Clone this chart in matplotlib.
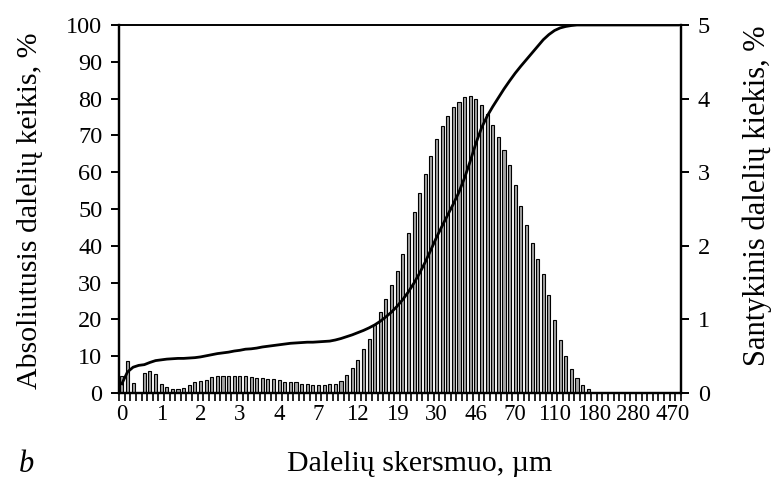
import numpy as np
import matplotlib.pyplot as plt

plt.rcParams['font.family'] = ['Liberation Serif', 'DejaVu Serif']

# santykinis kiekis kiekvienoje klaseje, % (desine asis)
santykinis = [
    0.236, 0.43, 0.136, 0.0, 0.272, 0.294, 0.263, 0.127, 0.077, 0.054,
    0.054, 0.068, 0.104, 0.145, 0.168, 0.181, 0.213, 0.231, 0.231, 0.231,
    0.231, 0.231, 0.231, 0.222, 0.208, 0.204, 0.195, 0.19, 0.181, 0.154,
    0.149, 0.145, 0.127, 0.122, 0.113, 0.109, 0.109, 0.118, 0.127, 0.159,
    0.24, 0.335, 0.444, 0.598, 0.734, 0.924, 1.096, 1.273, 1.472, 1.653,
    1.893, 2.174, 2.464, 2.713, 2.976, 3.225, 3.456, 3.628, 3.768, 3.89,
    3.958, 4.022, 4.04, 3.995, 3.918, 3.791, 3.646, 3.478, 3.297, 3.102,
    2.826, 2.545, 2.278, 2.033, 1.825, 1.621, 1.332, 0.996, 0.716, 0.498,
    0.326, 0.199, 0.115, 0.05, 0, 0, 0, 0, 0, 0,
    0, 0, 0, 0, 0, 0, 0, 0, 0, 0,
]

# absoliutusis (kumuliatyvinis) kiekis, % (kaire asis)
absoliutusis = [
    2.5, 5.7, 7.0, 7.5, 7.7, 8.3, 8.8, 9.0, 9.2, 9.3,
    9.4, 9.4, 9.5, 9.6, 9.8, 10.1, 10.4, 10.7, 10.9, 11.1,
    11.4, 11.6, 11.9, 12.0, 12.2, 12.5, 12.7, 12.9, 13.1, 13.3,
    13.5, 13.6, 13.7, 13.8, 13.8, 13.9, 14.0, 14.1, 14.4, 14.8,
    15.3, 15.8, 16.4, 17.0, 17.7, 18.5, 19.5, 20.7, 22.0, 23.6,
    25.4, 27.5, 29.9, 32.6, 35.6, 38.9, 42.3, 45.4, 48.4, 51.4,
    54.6, 58.5, 63.0, 67.8, 72.0, 75.2, 77.8, 80.2, 82.6, 84.8,
    86.9, 88.8, 90.6, 92.4, 94.2, 96.0, 97.4, 98.5, 99.2, 99.6,
    99.85, 100, 100, 100, 100, 100, 100, 100, 100, 100,
    100, 100, 100, 100, 100, 100, 100, 100, 100, 100,
]

x_zymes = ['0', '1', '2', '3', '4', '7', '12', '19', '30', '46',
           '70', '110', '180', '280', '470']
zymiu_zingsnis = 7

n = len(santykinis)
x = np.arange(n)

fig = plt.figure(figsize=(7.77, 4.86), dpi=100)
ax = fig.add_axes([0.1532, 0.1914, 0.7232, 0.7572])
ax2 = ax.twinx()

ax2.bar(x, santykinis, width=0.55, color='#a3a3a3', edgecolor='black',
        linewidth=0.8)
ax.plot(x, absoliutusis, color='black', linewidth=2.0)

# linija virs stulpeliu
ax.set_zorder(ax2.get_zorder() + 1)
ax.patch.set_visible(False)

ax.set_xlim(-0.5, n - 0.5)
ax.set_ylim(0, 100)
ax2.set_ylim(0, 5)
ax.set_yticks(np.arange(0, 101, 10))
ax2.set_yticks(np.arange(0, 6, 1))

ax.set_xticks(np.arange(0, n, zymiu_zingsnis)[:len(x_zymes)])
ax.set_xticklabels(x_zymes)
ax.set_xticks(np.arange(-0.5, n, 1), minor=True)
ax.tick_params(axis='x', which='major', length=0, pad=8, labelsize=16.5)
ax.tick_params(axis='x', which='minor', length=6, width=1.2,
               direction='out')
ax.tick_params(axis='y', length=6, width=1.4, labelsize=17.5, pad=6)
ax2.tick_params(axis='y', length=6, width=1.4, labelsize=17.5, pad=6)

for a in (ax, ax2):
    for s in a.spines.values():
        s.set_linewidth(1.6)
ax.spines['top'].set_linewidth(1.2)
ax2.spines['top'].set_linewidth(1.2)

fig.text(0.038, 0.566, 'Absoliutusis dalelių keikis, %', rotation=90,
         ha='center', va='center', fontsize=21.5)
fig.text(0.975, 0.597, 'Santykinis dalelių kiekis, %', rotation=90,
         ha='center', va='center', fontsize=22)
fig.text(0.540, 0.045, 'Dalelių skersmuo, µm', ha='center', va='center',
         fontsize=21.5)
fig.text(0.024, 0.045, 'b', ha='left', va='center', fontsize=22,
         style='italic')

fig.savefig('out.png', dpi=100)
